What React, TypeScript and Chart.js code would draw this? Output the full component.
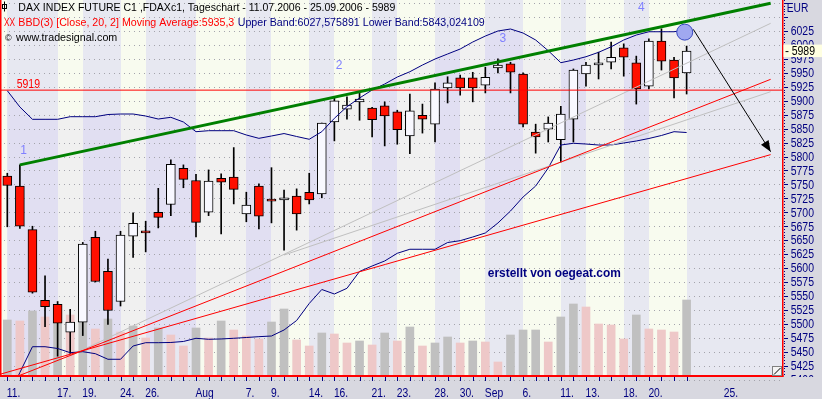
import React, { useEffect, useRef } from 'react';
import { Chart, registerables } from 'chart.js';

Chart.register(...registerables);

// ---------- data ----------
const OPEN = [5765, 5747, 5669, 5542, 5535, 5485, 5503, 5655, 5594, 5540, 5657, 5664, 5700, 5714, 5779, 5757, 5700, 5761, 5763, 5697, 5747, 5723, 5722, 5729, 5736, 5733, 5862, 5885, 5898, 5887, 5891, 5880, 5837, 5874, 5858, 5923, 5941, 5941, 5928, 5959, 5966, 5948, 5844, 5849, 5830, 5867, 5948, 5964, 5969, 5995, 5968, 5926, 6007, 5973, 5950];
const HIGH = [5770, 5785, 5675, 5586, 5540, 5526, 5646, 5666, 5616, 5666, 5699, 5684, 5743, 5794, 5785, 5768, 5776, 5769, 5816, 5736, 5751, 5780, 5740, 5742, 5770, 5860, 5907, 5907, 5914, 5888, 5898, 5883, 5912, 5894, 5932, 5943, 5946, 5951, 5960, 5975, 5969, 5950, 5858, 5871, 5890, 5957, 5969, 5987, 6005, 6002, 5980, 6011, 6029, 5978, 5998];
const LOW = [5674, 5671, 5555, 5495, 5442, 5447, 5479, 5575, 5499, 5532, 5619, 5629, 5672, 5694, 5744, 5656, 5694, 5661, 5715, 5683, 5670, 5681, 5632, 5668, 5715, 5726, 5828, 5867, 5865, 5835, 5819, 5822, 5805, 5842, 5826, 5896, 5910, 5898, 5914, 5950, 5914, 5853, 5806, 5826, 5790, 5826, 5926, 5939, 5957, 5944, 5894, 5921, 5955, 5905, 5912];
const CLOSE = [5748, 5675, 5557, 5531, 5501, 5503, 5643, 5576, 5524, 5659, 5680, 5663, 5691, 5786, 5759, 5682, 5756, 5754, 5741, 5713, 5693, 5720, 5726, 5697, 5722, 5860, 5900, 5892, 5903, 5866, 5873, 5848, 5882, 5867, 5921, 5932, 5923, 5923, 5942, 5964, 5951, 5858, 5835, 5860, 5876, 5955, 5964, 5968, 5978, 5978, 5921, 6007, 5971, 5941, 5989];
const VOLUME = [168, 165, 195, 177, 189, 183, 195, 141, 171, 132, 150, 114, 144, 123, 90, 144, 114, 165, 138, 120, 111, 162, 201, 108, 90, 129, 126, 99, 105, 93, 129, 105, 147, 90, 99, 117, 99, 105, 102, 42, 123, 138, 138, 102, 177, 216, 207, 156, 153, 111, 183, 141, 138, 132, 228];
const UPPER_BAND = [5918, 5888.8, 5866.7, 5866.7, 5866.7, 5871.4, 5871.4, 5871.4, 5875.3, 5876.2, 5876.2, 5872.6, 5867.2, 5870.3, 5861.9, 5844.5, 5846.3, 5846.3, 5846.3, 5838.6, 5832.6, 5836.8, 5841.2, 5835.9, 5830.9, 5844.5, 5868.5, 5889.3, 5904.9, 5919.2, 5930, 5942.5, 5952, 5964, 5974.8, 5983.8, 5992.7, 6005.3, 6016, 6025, 6028.6, 6021.4, 6008.9, 5989.7, 5968.2, 5973, 5978.9, 5986.8, 5996.7, 6008.9, 6017.8, 6023.7, 6023.7, 6023.7, 6027.6];
const LOWER_BAND = [5363.5, 5412.8, 5459, 5459, 5455.8, 5448.3, 5450.1, 5446.5, 5436.5, 5436.5, 5460.3, 5466.2, 5466.2, 5466.6, 5468.4, 5474.1, 5472.3, 5472.9, 5474.1, 5475.5, 5477, 5478.2, 5489, 5506, 5536.5, 5561.6, 5553.5, 5563.7, 5593.9, 5603.7, 5612.7, 5626.5, 5633.7, 5633.7, 5633.7, 5645.8, 5649.1, 5655.7, 5662.9, 5680.8, 5702.3, 5727.4, 5747.1, 5779.4, 5820.6, 5823.7, 5822.4, 5820.6, 5820.6, 5824.2, 5827.8, 5832.3, 5837.7, 5844.5, 5843];

const X_LABELS: [number, string][] = [[0, '11.'], [4, '17.'], [6, '19.'], [9, '24.'], [11, '26.'], [15, 'Aug'], [19, '7.'], [21, '9.'], [24, '14.'], [26, '16.'], [29, '21.'], [31, '23.'], [34, '28.'], [36, '30.'], [38, 'Sep'], [41, '6.'], [44, '11.'], [46, '13.'], [49, '18.'], [51, '20.'], [57, '25.']];
const STRIPE_BOUNDS = [0, 4, 6, 9, 11, 15, 19, 21, 24, 26, 29, 31, 34, 36, 38, 41, 44, 46, 49, 51, 54];
const PRICE_LABELS = [6025, 6000, 5975, 5950, 5925, 5900, 5875, 5850, 5825, 5800, 5775, 5750, 5725, 5700, 5675, 5650, 5625, 5600, 5575, 5550, 5525, 5500, 5475, 5450, 5425, 5400];
const GRID_LEVELS = [6075, 6050, ...PRICE_LABELS];

const LEVEL = 5919;
const LAST_PRICE = 5989;
const GREEN_LINE = [{ x: 1, y: 5785 }, { x: 60.68, y: 6074.7 }];
const RED_LINE_UP = [{ x: 0.66, y: 5404.7 }, { x: 60.68, y: 5938.4 }];
const RED_LINE_LOW = [{ x: -0.58, y: 5409.6 }, { x: 60.68, y: 5803.4 }];
const GRAY_LINE_A = [{ x: 5, y: 5442.6 }, { x: 60.68, y: 6038.8 }];
const GRAY_LINE_B = [{ x: 22, y: 5623.4 }, { x: 60.68, y: 5916.2 }];
const ARROW = [{ x: 54.53, y: 6028 }, { x: 60.68, y: 5808.6 }];
const CIRCLE = [{ x: 53.85, y: 6023 }];
const WAVE_LABELS = [{ t: '1', x: 1.29, y: 5810 }, { t: '2', x: 26.37, y: 5962 }, { t: '3', x: 39.4, y: 6012 }, { t: '4', x: 50.41, y: 6067 }];
const WATERMARK = { t: 'erstellt von oegeat.com', x: 38.2, y: 5584.5 };

const TITLE = 'DAX INDEX FUTURE C1 ,FDAXc1, Tageschart - 11.07.2006 - 25.09.2006 - 5989';
const IND_RED = 'BBD(3) [Close, 20, 2] Moving Average:5935,3';
const IND_BLUE = 'Upper Band:6027,575891 Lower Band:5843,024109';
const SITE = 'www.tradesignal.com';

// ---------- styling ----------
const FONT = '"Liberation Sans", Arial, sans-serif';
const LAVENDER = '#e7e8f1';
const CREAM = '#f8fbef';
const NAVY = '#000080';

function drawText(ctx: CanvasRenderingContext2D, s: string, x: number, y: number, size: number, color: string,
  opts: { width?: number; scale?: number; align?: CanvasTextAlign; bold?: boolean; baseline?: CanvasTextBaseline } = {}) {
  ctx.save();
  ctx.font = `${opts.bold ? 'bold ' : ''}${size}px ${FONT}`;
  ctx.fillStyle = color;
  ctx.textAlign = opts.align || 'left';
  ctx.textBaseline = opts.baseline || 'alphabetic';
  let sx = opts.scale || 1;
  if (opts.width) sx = opts.width / ctx.measureText(s).width;
  ctx.translate(x, y);
  ctx.scale(sx, 1);
  ctx.fillText(s, 0, 0);
  ctx.restore();
  return sx;
}

const decor = {
  id: 'decor',
  beforeDraw(chart: any) {
    const { ctx, chartArea: a } = chart;
    const xs = chart.scales.x;
    ctx.save();
    ctx.fillStyle = '#d8d8e0';
    ctx.fillRect(0, 0, chart.width, chart.height);
    const px = STRIPE_BOUNDS.map((i) => Math.round(xs.getPixelForValue(i)));
    ctx.fillStyle = CREAM;
    ctx.fillRect(a.left, a.top, px[0] - a.left, a.bottom - a.top);
    for (let k = 0; k < px.length; k++) {
      const x0 = px[k];
      const x1 = k + 1 < px.length ? px[k + 1] : a.right;
      ctx.fillStyle = k % 2 === 0 ? LAVENDER : CREAM;
      ctx.fillRect(x0, a.top, x1 - x0, a.bottom - a.top);
    }
    ctx.restore();
  },
  beforeDatasetsDraw(chart: any) {
    const { ctx, chartArea: a } = chart;
    const ys = chart.scales.y;
    ctx.save();
    ctx.strokeStyle = '#a4a4ac';
    ctx.lineWidth = 1;
    ctx.setLineDash([1, 4]);
    for (const v of GRID_LEVELS) {
      const y = Math.round(ys.getPixelForValue(v)) + 0.5;
      ctx.beginPath();
      ctx.moveTo(a.left + 4, y);
      ctx.lineTo(a.right, y);
      ctx.stroke();
    }
    ctx.restore();
  },
  afterDatasetsDraw(chart: any) {
    const { ctx, chartArea: a } = chart;
    const xs = chart.scales.x;
    const ys = chart.scales.y;
    // arrow head
    const x0 = xs.getPixelForValue(ARROW[0].x), y0 = ys.getPixelForValue(ARROW[0].y);
    const x1 = xs.getPixelForValue(ARROW[1].x), y1 = ys.getPixelForValue(ARROW[1].y);
    const ang = Math.atan2(y1 - y0, x1 - x0);
    const L = 11, W = 4.5;
    ctx.save();
    ctx.fillStyle = '#000';
    ctx.beginPath();
    ctx.moveTo(x1, y1);
    ctx.lineTo(x1 - L * Math.cos(ang) + W * Math.sin(ang), y1 - L * Math.sin(ang) - W * Math.cos(ang));
    ctx.lineTo(x1 - L * Math.cos(ang) - W * Math.sin(ang), y1 - L * Math.sin(ang) + W * Math.cos(ang));
    ctx.closePath();
    ctx.fill();
    ctx.restore();
    // wave labels
    for (const w of WAVE_LABELS) {
      drawText(ctx, w.t, xs.getPixelForValue(w.x), ys.getPixelForValue(w.y), 12, '#8080ff', { align: 'center', baseline: 'middle' });
    }
    // level label
    drawText(ctx, String(LEVEL), a.left + 16.7, ys.getPixelForValue(LEVEL) - 2.3, 12, '#ff0000', { width: 23.3 });
    // watermark
    drawText(ctx, WATERMARK.t, xs.getPixelForValue(WATERMARK.x), ys.getPixelForValue(WATERMARK.y), 13, NAVY, { bold: true, width: 133 });
  },
  afterDraw(chart: any) {
    const { ctx, chartArea: a } = chart;
    const xs = chart.scales.x;
    const ys = chart.scales.y;
    ctx.save();
    // frame
    ctx.fillStyle = '#ff0000';
    ctx.fillRect(0, 0, 1.5, a.bottom + 1);
    ctx.fillRect(a.right, 0, 1.5, a.bottom + 1);
    ctx.fillRect(0, a.bottom - 1, a.right + 1.5, 2);
    // resize glyph
    ctx.fillStyle = '#f4f4f4';
    ctx.fillRect(a.right - 9, a.bottom - 9, 8, 8);
    ctx.strokeStyle = '#808080';
    ctx.lineWidth = 1;
    ctx.strokeRect(a.right - 9.5, a.bottom - 9.5, 9, 9);
    ctx.strokeStyle = '#000';
    ctx.beginPath();
    ctx.moveTo(a.right - 8, a.bottom - 1.5);
    ctx.lineTo(a.right - 1.5, a.bottom - 8);
    ctx.stroke();

    // x axis ticks and labels
    ctx.strokeStyle = NAVY;
    for (let i = 0; i < OPEN.length; i++) {
      const x = Math.round(xs.getPixelForValue(i)) + 0.5;
      ctx.beginPath();
      ctx.moveTo(x, a.bottom + 1);
      ctx.lineTo(x, a.bottom + 5);
      ctx.stroke();
    }
    ctx.font = `12px ${FONT}`;
    const xsx = 18.3 / ctx.measureText('Aug').width;
    for (const [i, s] of X_LABELS) {
      drawText(ctx, s, xs.getPixelForValue(i) - 0.5, 397, 12, NAVY, { scale: xsx });
    }

    // y axis ticks
    ctx.fillStyle = NAVY;
    for (let v = 5405; v <= 6080; v += 5) {
      const y = Math.round(ys.getPixelForValue(v));
      if (y > a.bottom) continue;
      if (v % 25 === 0) ctx.fillRect(a.right + 2, y, 4, 1);
      else ctx.fillRect(a.right + 2, y, 1, 1);
    }
    ctx.save();
    ctx.beginPath();
    ctx.rect(a.right + 1, 0, 60, a.bottom + 1);
    ctx.clip();
    ctx.font = `12px ${FONT}`;
    const ysx = 23.3 / ctx.measureText('6025').width;
    for (const v of PRICE_LABELS) {
      drawText(ctx, String(v), a.right + 8.7, ys.getPixelForValue(v) + 4.3, 12, NAVY, { scale: ysx });
    }
    ctx.restore();
    drawText(ctx, 'EUR', a.right + 4.7, 11.7, 12, NAVY, { width: 21.6 });
    // last price box
    const yl = ys.getPixelForValue(LAST_PRICE);
    ctx.fillStyle = '#ffffe1';
    ctx.fillRect(a.right + 1.5, yl - 6.5, 40, 12.5);
    drawText(ctx, '-', a.right + 3, yl + 4.2, 12, '#000');
    drawText(ctx, String(LAST_PRICE), a.right + 9.7, yl + 4.2, 12, '#000', { scale: ysx });

    // header
    ctx.strokeStyle = '#000';
    ctx.lineWidth = 1;
    ctx.strokeRect(2.5, 4.5, 4, 4);
    ctx.beginPath();
    ctx.moveTo(4.5, 1.5);
    ctx.lineTo(4.5, 11.5);
    ctx.stroke();
    drawText(ctx, TITLE, 18.3, 11, 10.5, '#000', { width: 377 });
    drawText(ctx, 'XX', 4, 25.7, 10.5, '#ff0000', { width: 11 });
    const s2 = drawText(ctx, IND_RED, 18.3, 25.7, 10.5, '#ff0000', { width: 216 });
    drawText(ctx, IND_BLUE, 237.7, 25.7, 10.5, NAVY, { scale: s2 });
    drawText(ctx, '\u00A9', 5, 40.5, 9, '#000');
    drawText(ctx, SITE, 16, 40.5, 10.5, '#000', { width: 101.3 });
    ctx.restore();
  },
};

export default function App() {
  const ref = useRef<HTMLCanvasElement | null>(null);
  useEffect(() => {
    document.body.style.margin = '0';
    const canvas = ref.current;
    if (!canvas) return;
    const idx = OPEN.map((_, i) => i);
    const lineDs = (data: any[], color: string, width: number, order: number, extra: any = {}) => ({
      type: 'line', data, borderColor: color, borderWidth: width, pointRadius: 0, fill: false, order, ...extra,
    });
    const chart = new Chart(canvas, {
      type: 'bar',
      data: {
        datasets: [
          {
            type: 'bar', yAxisID: 'yv', data: idx.map((i) => ({ x: i, y: VOLUME[i] })),
            backgroundColor: idx.map((i) => (i === 0 || VOLUME[i] >= VOLUME[i - 1] ? '#c0c0c0' : '#eec8c8')),
            barThickness: 8, grouped: false, borderWidth: 0, order: 100,
          },
          {
            type: 'bar', data: idx.map((i) => ({ x: i, y: [LOW[i], HIGH[i]] })),
            backgroundColor: '#000', barThickness: 1, grouped: false, borderWidth: 0, order: 60,
          },
          {
            type: 'bar', data: idx.map((i) => ({ x: i, y: [OPEN[i], CLOSE[i]] })),
            backgroundColor: idx.map((i) => (CLOSE[i] < OPEN[i] ? '#ff1000' : '#f8f8ff')),
            borderColor: '#000', borderWidth: 1, borderSkipped: false, minBarLength: 2,
            barThickness: 9, grouped: false, order: 50,
          },
          lineDs(idx.map((i) => ({ x: i, y: UPPER_BAND[i] })), NAVY, 1, 20),
          lineDs(idx.map((i) => ({ x: i, y: LOWER_BAND[i] })), NAVY, 1, 20, { fill: '-1', backgroundColor: 'rgba(177,150,255,0.1)' }),
          lineDs([{ x: -1, y: LEVEL }, { x: 63, y: LEVEL }], '#ff0000', 1, 15),
          lineDs(RED_LINE_UP, '#ff0000', 1, 15),
          lineDs(RED_LINE_LOW, '#ff0000', 1, 15),
          lineDs(GRAY_LINE_A, '#c0c0c0', 1, 16),
          lineDs(GRAY_LINE_B, '#c0c0c0', 1, 16),
          lineDs(GREEN_LINE, '#008000', 3, 10),
          lineDs(ARROW, '#000', 1, 9),
          {
            type: 'line', data: CIRCLE, showLine: false, pointRadius: 8, pointBackgroundColor: '#a0a8f0',
            pointBorderColor: '#3848c0', pointBorderWidth: 1, order: 5,
          },
        ] as any,
      },
      options: {
        responsive: false,
        animation: false,
        events: [],
        layout: { autoPadding: false, padding: { left: 0, top: 0, right: 40, bottom: 23 } },
        scales: {
          x: { type: 'linear', min: -0.5803, max: 61.582, offset: false, display: false },
          y: { type: 'linear', min: 5406.5, max: 6080.6, display: false },
          yv: { type: 'linear', min: 0, max: 1128, display: false },
        },
        plugins: {
          legend: { display: false },
          tooltip: { enabled: false },
          filler: { drawTime: 'beforeDatasetsDraw' },
        },
      } as any,
      plugins: [decor],
    });
    return () => chart.destroy();
  }, []);
  return (
    <div style={{ width: 822, height: 399 }}>
      <canvas ref={ref} width={822} height={399} />
    </div>
  );
}
